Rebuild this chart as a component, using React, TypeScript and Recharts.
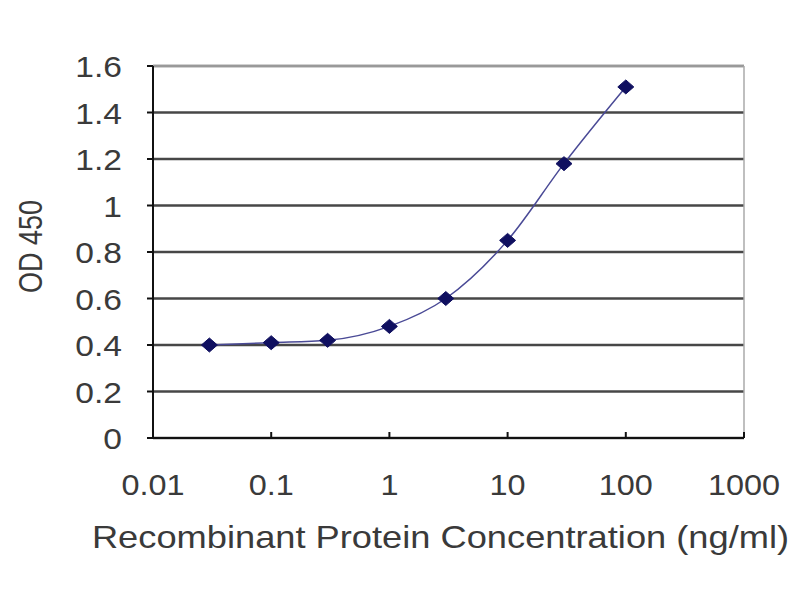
import React from 'react';
import { ComposedChart, Line, XAxis, YAxis, CartesianGrid, ReferenceLine } from 'recharts';

const concentrations = [0.03, 0.1, 0.3, 1, 3, 10, 30, 100];
const odValues = [0.40, 0.41, 0.42, 0.48, 0.60, 0.85, 1.18, 1.51];
const xTicks = [0.01, 0.1, 1, 10, 100, 1000];
const xTickLabels = ['0.01', '0.1', '1', '10', '100', '1000'];
const yTicks = [0, 0.2, 0.4, 0.6, 0.8, 1, 1.2, 1.4, 1.6];
const yTickLabels = ['0', '0.2', '0.4', '0.6', '0.8', '1', '1.2', '1.4', '1.6'];

const data = concentrations.map((c, i) => ({ x: c, y: odValues[i] }));

const FONT = '"Liberation Sans", Arial, sans-serif';
const TEXT = '#3a3a3a';

const XTick = (props: any) => {
  const { x, y, payload } = props;
  const idx = xTicks.indexOf(payload.value);
  const label = idx >= 0 ? xTickLabels[idx] : String(payload.value);
  return (
    <g>
      <line x1={x} y1={y} x2={x} y2={y - 6} stroke="#111" strokeWidth={2} />
      <g transform={`translate(${x},${y + 57}) scale(1.08,1)`}>
        <text x={0} y={0} textAnchor="middle" fontFamily={FONT} fontSize={30} fill={TEXT}>
          {label}
        </text>
      </g>
    </g>
  );
};

const YTick = (props: any) => {
  const { x, y, payload } = props;
  const idx = yTicks.findIndex((t) => Math.abs(t - payload.value) < 1e-9);
  const label = idx >= 0 ? yTickLabels[idx] : String(payload.value);
  return (
    <g>
      <line x1={x} y1={y} x2={x - 6} y2={y} stroke="#111" strokeWidth={2} />
      <g transform={`translate(${x - 31},${y + 11}) scale(1.12,1)`}>
        <text x={0} y={0} textAnchor="end" fontFamily={FONT} fontSize={30} fill={TEXT}>
          {label}
        </text>
      </g>
    </g>
  );
};

const Diamond = (props: any) => {
  const { cx, cy } = props;
  if (cx == null || cy == null) return null;
  return (
    <polygon
      points={`${cx},${cy - 7} ${cx + 8},${cy} ${cx},${cy + 7} ${cx - 8},${cy}`}
      fill="#101060"
      stroke="#101060"
    />
  );
};

export default function App() {
  return (
    <div style={{ position: 'absolute', left: 0, top: 0, width: 800, height: 600, background: '#fff' }}>
      <ComposedChart
        width={800}
        height={600}
        data={data}
        margin={{ top: 66, right: 56, bottom: 0, left: 0 }}
      >
        <CartesianGrid horizontal vertical={false} stroke="#474747" strokeWidth={2.5} />
        <ReferenceLine y={1.6} stroke="#999" strokeWidth={2} />
        <ReferenceLine x={1000} stroke="#aaa" strokeWidth={1.5} />
        <XAxis
          dataKey="x"
          type="number"
          scale="log"
          domain={[0.01, 1000]}
          ticks={xTicks}
          allowDataOverflow
          height={162}
          tickSize={0}
          tickMargin={0}
          tickLine={false}
          axisLine={{ stroke: '#111', strokeWidth: 2 }}
          tick={<XTick />}
          interval={0}
          label={(p: any) => (
            <g transform="translate(440.5,548) scale(1.17,1)">
              <text x={0} y={0} textAnchor="middle" fontFamily={FONT} fontSize={31} fill={TEXT}>
                Recombinant Protein Concentration (ng/ml)
              </text>
            </g>
          )}
        />
        <YAxis
          type="number"
          domain={[0, 1.6]}
          ticks={yTicks}
          width={153}
          tickSize={0}
          tickMargin={0}
          tickLine={false}
          axisLine={{ stroke: '#111', strokeWidth: 2 }}
          tick={<YTick />}
          interval={0}
          label={(p: any) => (
            <g transform="translate(42,246.5) scale(1.2,1) rotate(-90)">
              <text x={0} y={0} textAnchor="middle" fontFamily={FONT} fontSize={27} fill={TEXT}>
                OD 450
              </text>
            </g>
          )}
        />
        <Line
          dataKey="y"
          type="monotone"
          stroke="#4a4a96"
          strokeWidth={1.5}
          dot={<Diamond />}
          activeDot={false}
          isAnimationActive={false}
        />
      </ComposedChart>
    </div>
  );
}
